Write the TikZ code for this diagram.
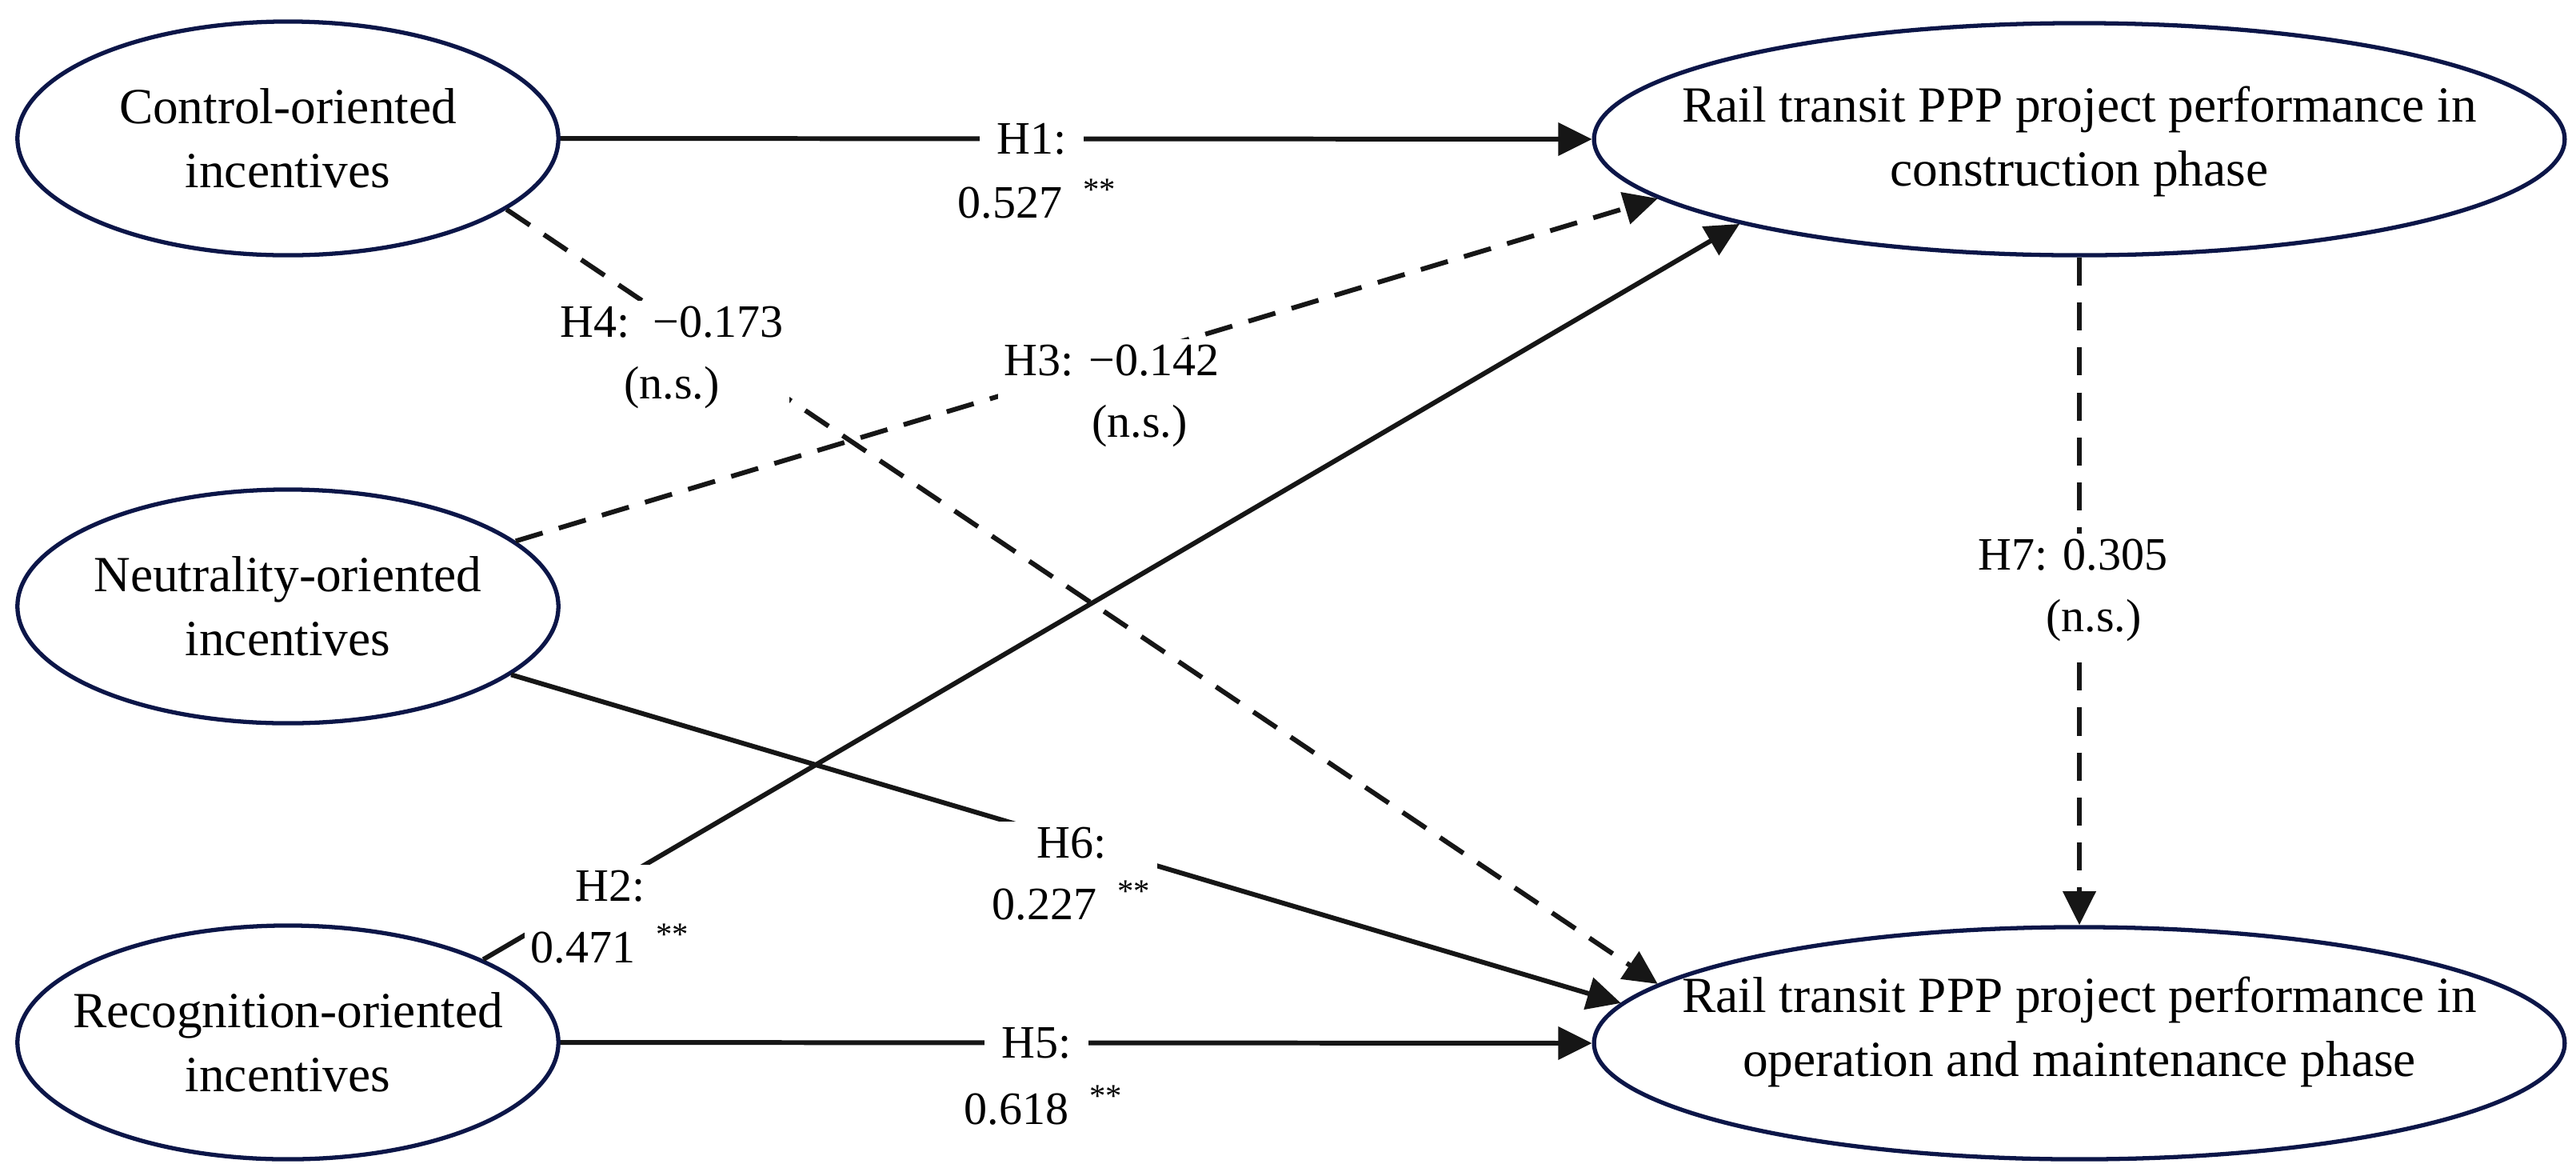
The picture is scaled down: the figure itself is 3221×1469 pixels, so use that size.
\documentclass[tikz,border=0pt]{standalone}
\usepackage{fontspec}
\setmainfont{Liberation Serif}
\usetikzlibrary{shapes.geometric,arrows.meta}
\definecolor{navy}{RGB}{12,22,72}
\definecolor{ink}{RGB}{22,22,22}
\begin{document}
\begin{tikzpicture}[x=0.01cm,y=-0.01cm,
  latent/.style={ellipse, draw=navy, line width=1.5pt, fill=white, inner sep=0pt},
  lsmall/.style={latent, minimum width=6.76cm, minimum height=2.92cm},
  lbig/.style={latent, minimum width=12.13cm, minimum height=2.9cm},
  ltext/.style={align=center, font=\fontsize{18}{22.7}\selectfont, text=black, inner sep=0pt},
  sig/.style={draw=ink, line width=1.7pt, -{Triangle[length=12pt,width=11.5pt]}},
  nsig/.style={sig, dash pattern=on 10pt off 6pt},
  plabel/.style={align=center, font=\fontsize{16.5}{22}\selectfont, fill=white, inner sep=2pt},
  hlabel/.style={plabel, inner xsep=6pt, inner ysep=1pt},
  pval/.style={align=center, font=\fontsize{16.5}{22}\selectfont, inner sep=1pt}]
\useasboundingbox[fill=white] (0,0) rectangle (3221,1469);

% latent variables
\node[lsmall] (ctrl)  at (360,173)  {};
\node[lsmall] (neut)  at (360,758)  {};
\node[lsmall] (recog) at (360,1303) {};
\node[lbig]   (cons)  at (2600,174) {};
\node[lbig]   (op)    at (2600,1304) {};

\node[ltext] (ctrlT)  at (ctrl)  {Control-oriented\\incentives};
\node[ltext] (neutT)  at (neut)  {Neutrality-oriented\\incentives};
\node[ltext] (recogT) at (recog) {Recognition-oriented\\incentives};
\node[ltext] (consT)  at (2600,177) {Rail transit PPP project performance in\\construction phase};
\node[ltext] (opT)    at (2600,1290) {Rail transit PPP project performance in\\operation and maintenance phase};

% paths
\draw[sig]  (ctrl.east)  -- (cons.west);
\draw[nsig] (ctrl.-18)   -- (op.172);
\draw[nsig] (neut.16)    -- (cons.188);
\draw[sig]  (neut.-17)   -- (op.175);
\draw[sig]  (recog.23)   -- (cons.194);
\draw[sig]  (recog.east) -- (op.west);
\draw[nsig] (cons.south) -- (op.north);

% path labels
\node[hlabel] (h1)  at (1290,174) {H1:};
\node[pval]   (h1v) at (1297,249) {0.527\hspace{0.45em}\textsuperscript{**}};
\node[hlabel] (h5)  at (1296,1304) {H5:};
\node[pval]   (h5v) at (1305,1382) {0.618\hspace{0.45em}\textsuperscript{**}};
\node[plabel] (h4)  at (840,447)  {H4:\ \ −0.173\\(n.s.)};
\node[plabel] (h3)  at (1390,495) {H3: −0.142\\\hspace{1.2em}(n.s.)};
\node[plabel] (h7)  at (2592,738) {H7: 0.305\\\hspace{0.9em}(n.s.)};
\node[plabel] (h6)  at (1340,1092) {H6:\\0.227\hspace{0.45em}\textsuperscript{**}};
\node[plabel] (h2)  at (763,1146) {H2:\\0.471\hspace{0.45em}\textsuperscript{**}};
\end{tikzpicture}
\end{document}
